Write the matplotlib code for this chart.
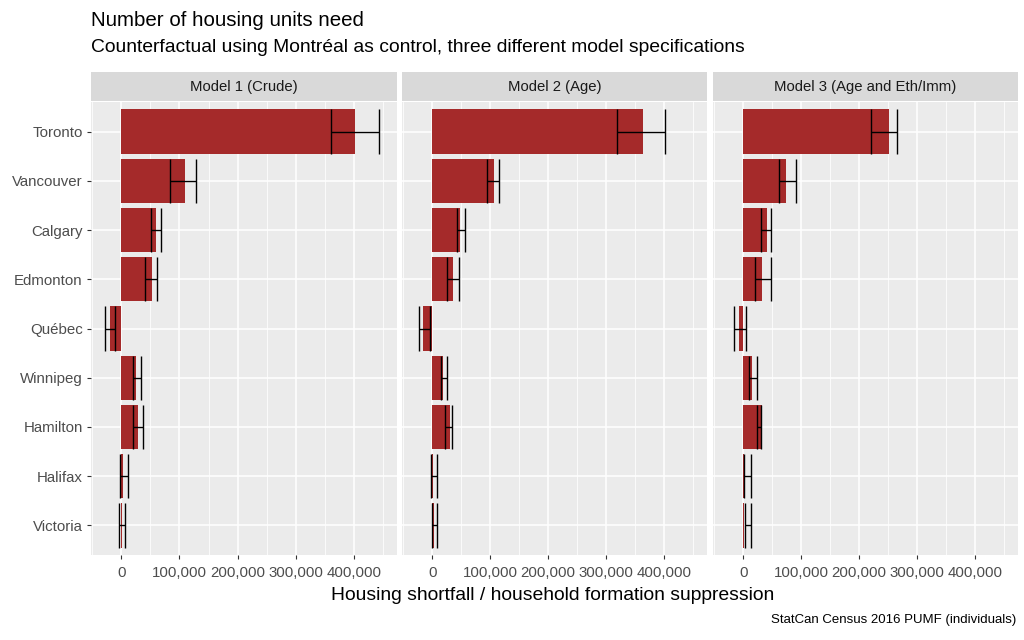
import matplotlib
matplotlib.use('Agg')
from matplotlib import pyplot as plt
from matplotlib.ticker import FuncFormatter
import numpy as np

plt.rcParams['font.family'] = ['Liberation Sans', 'DejaVu Sans']

cities = ['Toronto', 'Vancouver', 'Calgary', 'Edmonton', 'Québec',
          'Winnipeg', 'Hamilton', 'Halifax', 'Victoria']
models = ['Model 1 (Crude)', 'Model 2 (Age)', 'Model 3 (Age and Eth/Imm)']

# estimate, lower and upper bound per model (housing units)
est_m1 = [401000, 109000, 59500, 52000, -20000, 26000, 29000, 3000, 1000]
low_m1 = [361000, 84000, 51000, 40000, -28000, 20500, 20000, -2500, -4000]
high_m1 = [443000, 128000, 68500, 62000, -10000, 34000, 37000, 11000, 6000]

est_m2 = [363000, 106000, 48000, 36000, -15000, 18000, 31000, 2000, 4000]
low_m2 = [319000, 94000, 42000, 26000, -23000, 16000, 22000, -2500, 500]
high_m2 = [401000, 115500, 57000, 46000, -4500, 26000, 34000, 8000, 8000]

est_m3 = [251000, 74000, 40500, 32500, -7000, 15000, 32000, 2000, 2000]
low_m3 = [220000, 61000, 31500, 21000, -16000, 9500, 23500, 1500, 3000]
high_m3 = [266000, 92000, 47500, 47500, 4500, 24500, 31000, 13000, 13000]

estimates = [est_m1, est_m2, est_m3]
lows = [low_m1, low_m2, low_m3]
highs = [high_m1, high_m2, high_m3]

W, H = 1024, 640
fig = plt.figure(figsize=(W / 100, H / 100), dpi=100)

panel_x = [(91, 397), (402, 707), (713, 1018)]
top, bottom = 102, 555
strip_top = 72

y = np.arange(len(cities))
bw = 0.9
fmt = FuncFormatter(lambda v, p: '{:,.0f}'.format(v))

for i, (x0, x1) in enumerate(panel_x):
    ax = fig.add_axes([x0 / W, 1 - bottom / H, (x1 - x0) / W, (bottom - top) / H])
    ax.set_facecolor('#EBEBEB')
    for s in ax.spines.values():
        s.set_visible(False)
    ax.set_xlim(-52000, 474000)
    ax.set_ylim(len(cities) - 0.4, -0.6)
    ax.set_xticks([0, 100000, 200000, 300000, 400000])
    ax.set_xticks(np.arange(-50000, 474000, 100000), minor=True)
    ax.xaxis.set_major_formatter(fmt)
    ax.set_yticks(y)
    ax.set_yticklabels(cities if i == 0 else [])
    ax.grid(which='major', color='white', linewidth=1.1)
    ax.grid(which='minor', axis='x', color='white', linewidth=0.55)
    ax.set_axisbelow(True)
    ax.tick_params(which='major', length=3, color='#333333', labelcolor='#4D4D4D',
                   labelsize=10.8, width=0.8, pad=3)
    ax.tick_params(axis='x', pad=5)
    ax.tick_params(which='minor', length=0)
    if i > 0:
        ax.tick_params(axis='y', length=0)

    ax.barh(y, estimates[i], height=bw, color='#A52A2A', edgecolor='none')
    ax.hlines(y, lows[i], highs[i], color='black', linewidth=1)
    ax.vlines(lows[i], y - bw / 2, y + bw / 2, color='black', linewidth=1)
    ax.vlines(highs[i], y - bw / 2, y + bw / 2, color='black', linewidth=1)

    # strip
    sax = fig.add_axes([x0 / W, 1 - (top - 1) / H, (x1 - x0) / W, (top - 1 - strip_top) / H])
    sax.set_facecolor('#D9D9D9')
    sax.set_xticks([])
    sax.set_yticks([])
    for s in sax.spines.values():
        s.set_visible(False)
    sax.text(0.5, 0.5, models[i], ha='center', va='center', fontsize=10.7,
             color='#1A1A1A', transform=sax.transAxes)

fig.text(91 / W, 1 - 20 / H, 'Number of housing units need', fontsize=14.8,
         ha='left', va='center', color='black')
fig.text(91 / W, 1 - 48 / H,
         'Counterfactual using Montréal as control, three different model specifications',
         fontsize=13.9, ha='left', va='center', color='black')
fig.text(553 / W, 1 - 595 / H, 'Housing shortfall / household formation suppression',
         fontsize=13.9, ha='center', va='center', color='black')
fig.text(1016 / W, 1 - 620 / H, 'StatCan Census 2016 PUMF (individuals)',
         fontsize=9.5, ha='right', va='center', color='black')

fig.savefig('out.png', dpi=100, facecolor='white')
